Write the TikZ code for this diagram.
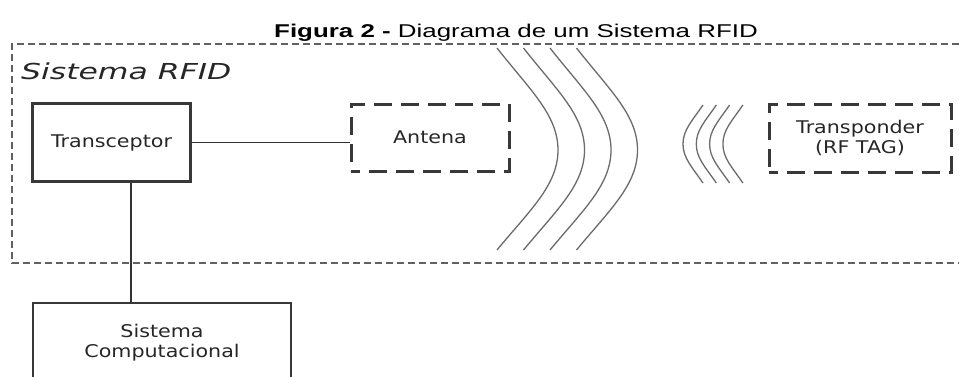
\documentclass[tikz,border=0pt]{standalone}
\usepackage{fontspec}
\setmainfont{Liberation Sans}
\newfontfamily\titlefont[FakeStretch=1.4]{Liberation Sans}
\newfontfamily\diagfont[FakeStretch=1.18]{DejaVu Sans}
\newfontfamily\labelfont[FakeStretch=1.43]{DejaVu Sans}
\usetikzlibrary{calc}

\begin{document}
\begin{tikzpicture}[x=1pt,y=-1pt,
  frame/.style={draw=black!62, line width=1.4pt, dash pattern=on 7pt off 4pt},
  solidbox/.style={draw=black!78, line width=3.2pt, inner sep=0pt, align=center,
    font=\diagfont\fontsize{17.5}{20}\selectfont, text=black!85},
  thinbox/.style={solidbox, line width=2.2pt},
  dashbox/.style={solidbox, line width=3pt, dash pattern=on 18pt off 9pt, dash phase=9pt},
  link/.style={draw=black!80, line width=1.6pt},
  wave/.style={draw=black!58, line width=1.3pt}]

\useasboundingbox (0,0) rectangle (959,376);
\clip (0,0) rectangle (959,376);

% caption
\node[anchor=base, inner sep=0pt, font=\titlefont\fontsize{18.5}{22}\selectfont] (title) at (516,37)
  {\textbf{Figura 2 -} Diagrama de um Sistema RFID};

% open dashed frame of the RFID system
\draw[frame] (959,44) -- (12,44) -- (12,263) -- (959,263);
\node[anchor=base west, inner sep=0pt, text=black!85,
  font=\labelfont\itshape\fontsize{22}{26}\selectfont] (syslabel) at (21,79) {Sistema RFID};

% blocks
\node[solidbox, minimum width=158pt, minimum height=78pt] (trans) at (111.5,142.5) {Transceptor};
\node[dashbox, minimum width=158pt, minimum height=67pt] (antena) at (430,137.5) {Antena};
\node[dashbox, minimum width=182pt, minimum height=68pt] (tag) at (860,138) {Transponder\\(RF TAG)};
\node[thinbox, minimum width=258pt, minimum height=80pt] (comp) at (162,343) {Sistema\\Computacional};

% connectors
\coordinate (drop) at (131,0);
\draw[link] (trans.east) -- (trans.east -| antena.west);
\draw[link] (trans.south -| drop) -- (comp.north -| drop);

% radiated field from the antenna
\foreach \dx in {0,26.5,53,79.5} {
  \draw[wave] (497+\dx,48) .. controls (530+\dx,90) and (558+\dx,115) .. (558+\dx,150)
    .. controls (558+\dx,185) and (530+\dx,210) .. (497+\dx,250);
}
% reply field from the tag
\foreach \dx in {0,13.3,26.6,39.9} {
  \draw[wave] (703+\dx,105) .. controls (692+\dx,121) and (683+\dx,130) .. (683+\dx,144)
    .. controls (683+\dx,158) and (692+\dx,167) .. (703+\dx,183);
}
\end{tikzpicture}
\end{document}
